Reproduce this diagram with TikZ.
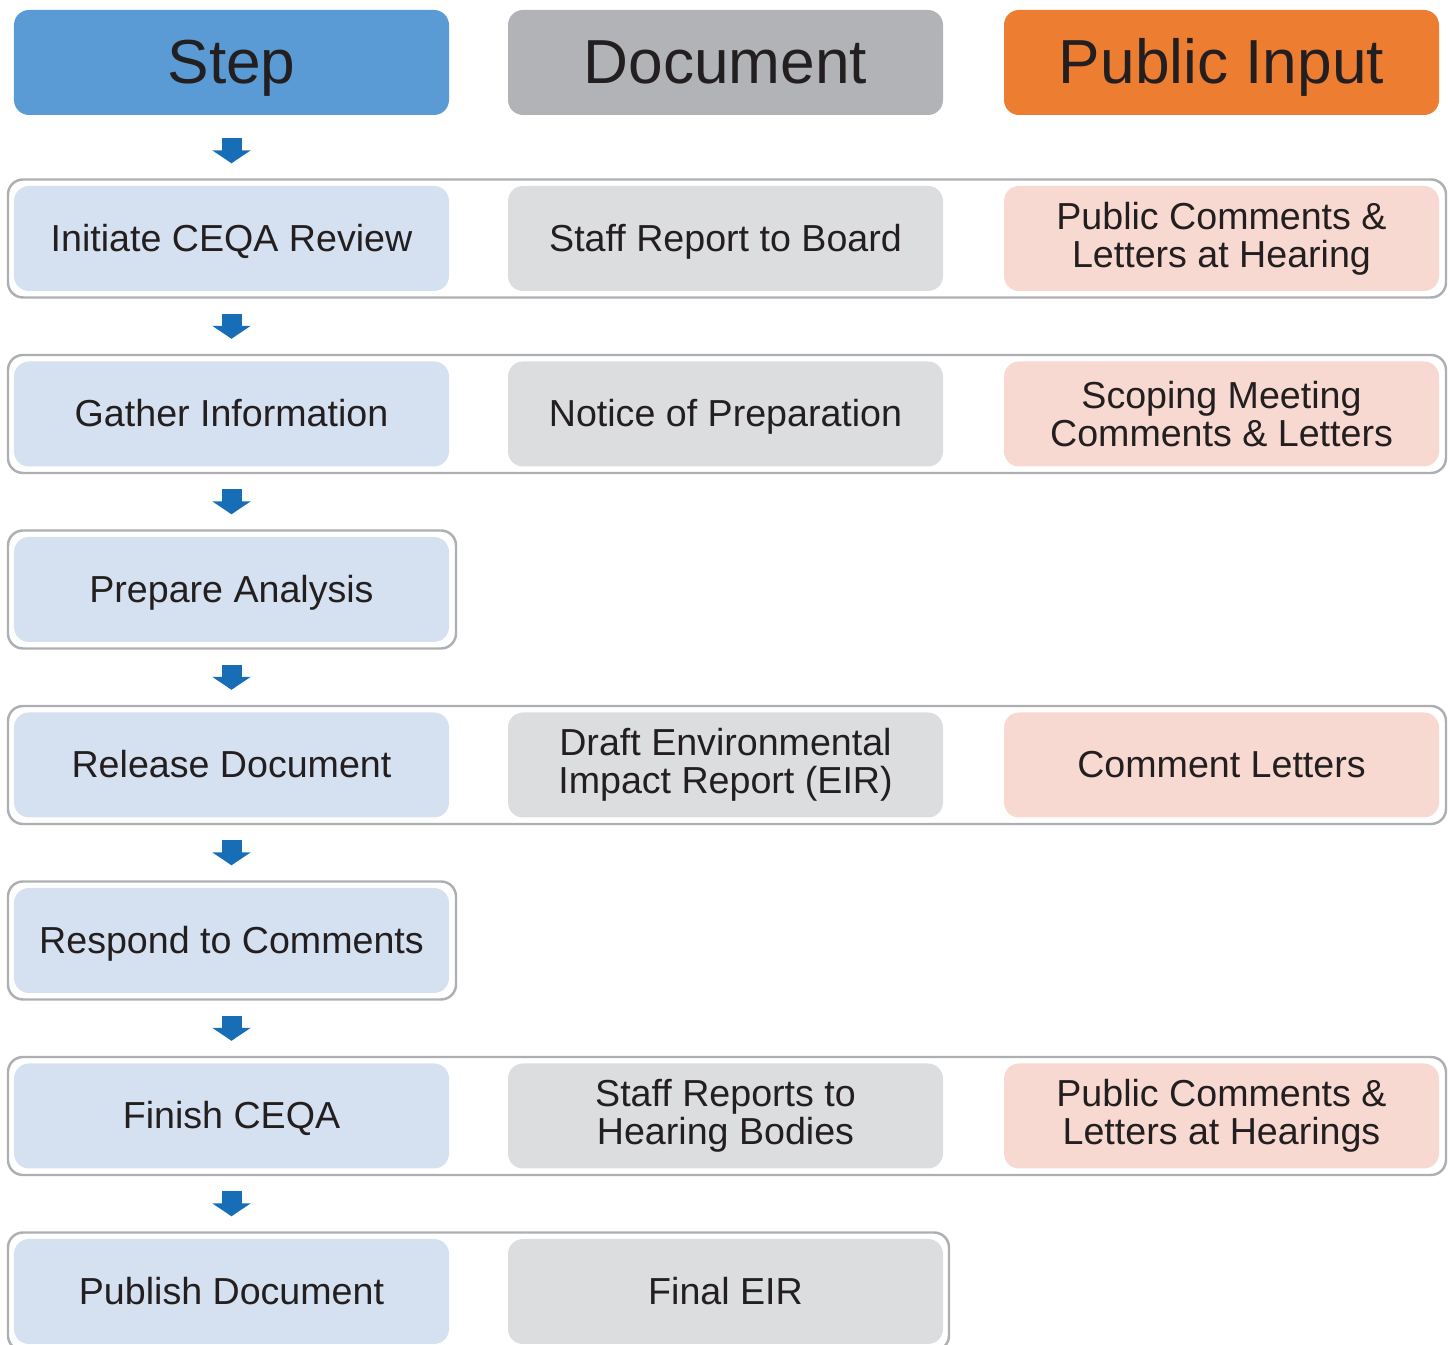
\documentclass[tikz,border=0pt]{standalone}
\usepackage{fontspec}
\setmainfont{Liberation Sans}
\usetikzlibrary{arrows.meta}

\definecolor{stephead}{HTML}{5B9BD5}
\definecolor{dochead}{HTML}{B1B3B6}
\definecolor{inputhead}{HTML}{ED7D31}
\definecolor{stepfill}{HTML}{D5E0F0}
\definecolor{docfill}{HTML}{DCDDDF}
\definecolor{inputfill}{HTML}{F8D9D1}
\definecolor{rowline}{HTML}{AEAFB2}
\definecolor{arrowblue}{HTML}{176EB6}
\definecolor{ink}{HTML}{231F20}

\begin{document}
\begin{tikzpicture}[oneline/.style={text height=7.7pt,text depth=0.4pt}]

      \path[use as bounding box, clip] (0,0) rectangle (14.48,13.45);

      % row frames
      \begin{scope}[every node/.style={draw=rowline,line width=0.7pt,rounded corners=0.15cm,minimum height=1.18cm,inner sep=0pt}]
        \node[minimum width=14.38cm] (o1) at (7.27,11.065) {};
        \node[minimum width=14.38cm] (o2) at (7.27,9.31)   {};
        \node[minimum width=4.48cm]  (o3) at (2.32,7.555)  {};
        \node[minimum width=14.38cm] (o4) at (7.27,5.80)   {};
        \node[minimum width=4.48cm]  (o5) at (2.32,4.045)  {};
        \node[minimum width=14.38cm] (o6) at (7.27,2.29)   {};
        \node[minimum width=9.41cm]  (o7) at (4.785,0.535) {};
      \end{scope}

      % headers
      \begin{scope}[every node/.style={text height=12.7pt,text depth=0.6pt,rounded corners=0.15cm,minimum width=4.35cm,minimum height=1.05cm,inner sep=0pt,text=ink,font=\fontsize{17.7}{20}\selectfont}]
        \node[fill=stephead]  (h1) at (2.315,12.825)  {Step};
        \node[fill=dochead]   (h2) at (7.255,12.825)  {Document};
        \node[fill=inputhead] (h3) at (12.215,12.825) {Public Input};
      \end{scope}

      % boxes
      \begin{scope}[every node/.style={rounded corners=0.15cm,minimum width=4.35cm,minimum height=1.05cm,inner sep=0pt,align=center,text=ink,font=\fontsize{10.7}{10.9}\selectfont}]
        \node[oneline,fill=stepfill] (s1) at (2.315,11.065) {Initiate CEQA Review};
        \node[oneline,fill=stepfill] (s2) at (2.315,9.31)   {Gather Information};
        \node[oneline,fill=stepfill] (s3) at (2.315,7.555)  {Prepare Analysis};
        \node[oneline,fill=stepfill] (s4) at (2.315,5.80)   {Release Document};
        \node[oneline,fill=stepfill] (s5) at (2.315,4.045)  {Respond to Comments};
        \node[oneline,fill=stepfill] (s6) at (2.315,2.29)   {Finish CEQA};
        \node[oneline,fill=stepfill] (s7) at (2.315,0.535)  {Publish Document};

        \node[oneline,fill=docfill] (d1) at (7.255,11.065) {Staff Report to Board};
        \node[oneline,fill=docfill] (d2) at (7.255,9.31)   {Notice of Preparation};
        \node[fill=docfill] (d4) at (7.255,5.80)   {Draft Environmental\\Impact Report (EIR)};
        \node[fill=docfill] (d6) at (7.255,2.29)   {Staff Reports to\\Hearing Bodies};
        \node[oneline,fill=docfill] (d7) at (7.255,0.535)  {Final EIR};

        \node[fill=inputfill] (p1) at (12.215,11.065) {Public Comments \&\\Letters at Hearing};
        \node[fill=inputfill] (p2) at (12.215,9.31)   {Scoping Meeting\\Comments \& Letters};
        \node[oneline,fill=inputfill] (p4) at (12.215,5.80)   {Comment Letters};
        \node[fill=inputfill] (p6) at (12.215,2.29)   {Public Comments \&\\Letters at Hearings};
      \end{scope}

      % flow arrows
      \begin{scope}[every path/.style={draw=arrowblue,line width=0.2cm,shorten >=0.22cm,shorten <=0.22cm,-{Triangle[width=0.38cm,length=0.13cm]}}]
        \path (h1) edge (s1);
        \path (s1) edge (s2);
        \path (s2) edge (s3);
        \path (s3) edge (s4);
        \path (s4) edge (s5);
        \path (s5) edge (s6);
        \path (s6) edge (s7);
      \end{scope}

    \end{tikzpicture}
\end{document}
